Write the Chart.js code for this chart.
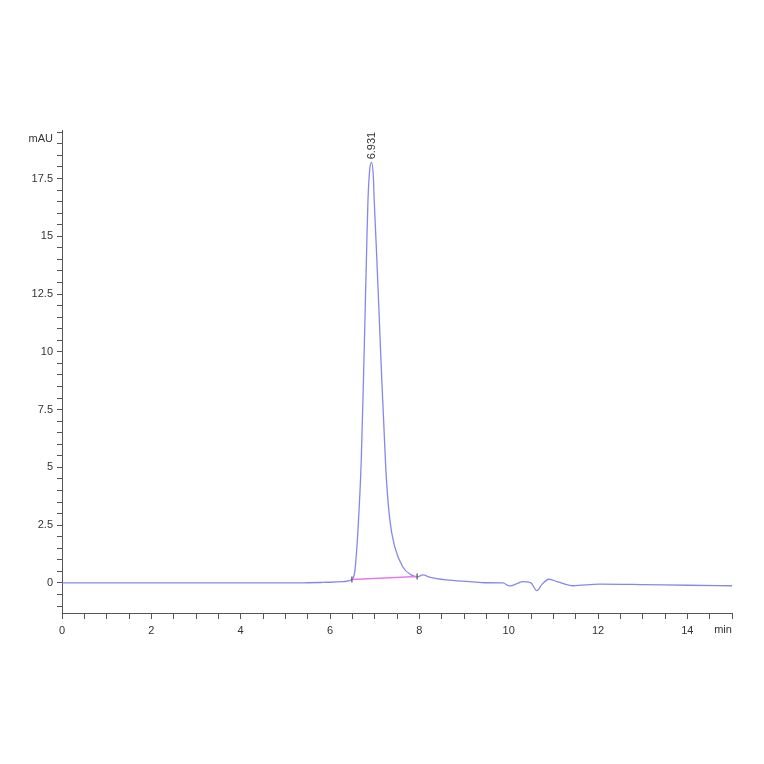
<!DOCTYPE html>
<html>
<head>
<meta charset="utf-8">
<title>Chromatogram</title>
<script src="https://cdn.jsdelivr.net/npm/chart.js@4.4.1/dist/chart.umd.min.js"></script>
<style>
  html, body { margin: 0; padding: 0; background: #fff; }
  #wrap { width: 764px; height: 764px; }
</style>
</head>
<body>
<div id="wrap"><canvas id="chromChart" width="764" height="764"></canvas></div>
<script>
// Signal trace (retention time in min, absorbance in mAU)
const traceTimes = [0, 1, 2, 3, 4, 5, 5.5, 5.8, 6.0, 6.3, 6.49, 6.555, 6.62, 6.70, 6.76, 6.82, 6.85, 6.89, 6.931, 6.97, 6.99, 7.04, 7.10, 7.15, 7.19, 7.26, 7.34, 7.45, 7.63, 7.82, 7.96, 8.08, 8.23, 8.6, 9.13, 9.5, 9.87, 10.02, 10.2, 10.31, 10.5, 10.63, 10.75, 10.9, 11.1, 11.44, 12.03, 13.0, 14.0, 15.0];
const traceValues = [0, 0, 0, 0, 0, 0, 0.01, 0.02, 0.03, 0.06, 0.15, 0.5, 2.1, 5.3, 9.64, 14.4, 16.55, 17.9, 18.2, 17.6, 16.55, 14.4, 11.6, 9.2, 7.5, 4.6, 2.72, 1.56, 0.69, 0.35, 0.26, 0.35, 0.25, 0.13, 0.06, 0.01, 0.0, -0.13, -0.02, 0.06, 0.0, -0.33, -0.05, 0.16, 0.05, -0.12, -0.05, -0.07, -0.1, -0.12];

// Integration baseline of the peak
const baseTimes = [6.49, 7.95];
const baseValues = [0.15, 0.28];

// Peak annotation
const peakTime = 6.931;
const peakValue = 18.2;
const peakLabel = "6.931";

// Axis labels
const yUnit = "mAU";
const xUnit = "min";

const tracePoints = traceTimes.map((t, i) => ({ x: t, y: traceValues[i] }));
const basePoints = baseTimes.map((t, i) => ({ x: t, y: baseValues[i] }));

const textFont = "'Liberation Sans', Arial, sans-serif";

// Draws the unit labels and the rotated peak label
const annotationPlugin = {
  id: "chromAnnotations",
  afterDraw: (chart) => {
    const ctx = chart.ctx;
    const xs = chart.scales.x;
    const ys = chart.scales.y;
    ctx.save();
    ctx.fillStyle = "#333";
    ctx.font = "11px " + textFont;

    // y unit, at the top of the value axis
    ctx.textAlign = "right";
    ctx.textBaseline = "middle";
    ctx.fillText(yUnit, xs.left - 9, ys.getPixelForValue(19.2));

    // x unit, at the end of the time axis
    ctx.textAlign = "center";
    ctx.textBaseline = "top";
    ctx.fillText(xUnit, xs.getPixelForValue(14.8), ys.bottom + 11);

    // peak retention time, rotated
    ctx.translate(xs.getPixelForValue(peakTime), ys.getPixelForValue(peakValue) - 3);
    ctx.rotate(-Math.PI / 2);
    ctx.textAlign = "left";
    ctx.textBaseline = "middle";
    ctx.fillText(peakLabel, 0, 0);
    ctx.restore();
  },
};

const isMultiple = (v, step) => Math.abs(v / step - Math.round(v / step)) < 1e-6;

const ctx = document.getElementById("chromChart").getContext("2d");
new Chart(ctx, {
  type: "line",
  data: {
    datasets: [
      {
        label: "Signal",
        data: tracePoints,
        borderColor: "rgba(118, 118, 232, 0.88)",
        borderWidth: 1.3,
        pointRadius: 0,
        cubicInterpolationMode: "monotone",
        order: 2,
      },
      {
        label: "Baseline",
        data: basePoints,
        borderColor: "#e87be8",
        borderWidth: 1.3,
        pointRadius: 0,
        order: 1,
      },
      {
        label: "Marks",
        type: "scatter",
        data: basePoints,
        pointStyle: "line",
        rotation: 90,
        radius: 3,
        borderColor: "#555",
        borderWidth: 1.2,
        order: 0,
      },
    ],
  },
  options: {
    responsive: false,
    animation: false,
    devicePixelRatio: 1,
    layout: {
      padding: { top: 130, right: 32, left: 0, bottom: 0 },
    },
    plugins: {
      legend: { display: false },
      tooltip: { enabled: false },
    },
    scales: {
      x: {
        type: "linear",
        min: 0,
        max: 15,
        afterFit: (scale) => {
          scale.height = 151;
        },
        border: { display: true, color: "#555", width: 1 },
        grid: {
          drawOnChartArea: false,
          drawTicks: true,
          tickLength: 6,
          tickColor: "#555",
        },
        ticks: {
          stepSize: 0.5,
          includeBounds: false,
          autoSkip: false,
          maxRotation: 0,
          padding: 5,
          color: "#333",
          font: { family: textFont, size: 11 },
          callback: (v) => (isMultiple(v, 2) && v < 15 ? String(v) : ""),
        },
      },
      y: {
        type: "linear",
        min: -1.3,
        max: 19.6,
        afterFit: (scale) => {
          scale.width = 62;
        },
        border: { display: true, color: "#555", width: 1 },
        grid: {
          drawOnChartArea: false,
          drawTicks: true,
          tickLength: 5,
          tickColor: "#555",
        },
        ticks: {
          stepSize: 0.5,
          includeBounds: false,
          autoSkip: false,
          padding: 4,
          color: "#333",
          font: { family: textFont, size: 11 },
          callback: (v) => (isMultiple(v, 2.5) ? String(Math.round(v * 10) / 10) : ""),
        },
      },
    },
  },
  plugins: [annotationPlugin],
});
</script>
</body>
</html>
